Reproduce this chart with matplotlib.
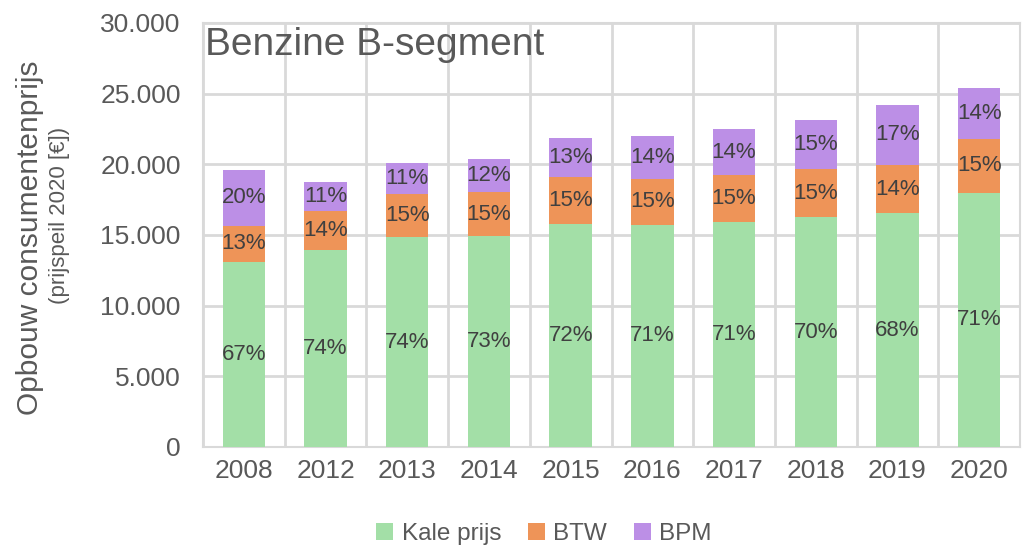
import numpy as np
import matplotlib.pyplot as plt

years = ["2008", "2012", "2013", "2014", "2015", "2016", "2017", "2018", "2019", "2020"]
kale_prijs = [13110, 13940, 14840, 14910, 15800, 15710, 15940, 16260, 16540, 18000]
btw = [2550, 2740, 3090, 3140, 3290, 3260, 3310, 3390, 3420, 3800]
bpm = [3940, 2100, 2190, 2350, 2800, 3060, 3230, 3490, 4240, 3590]

kale_pct = ["67%", "74%", "74%", "73%", "72%", "71%", "71%", "70%", "68%", "71%"]
btw_pct = ["13%", "14%", "15%", "15%", "15%", "15%", "15%", "15%", "14%", "15%"]
bpm_pct = ["20%", "11%", "11%", "12%", "13%", "14%", "14%", "15%", "17%", "14%"]

plt.rcParams['font.family'] = ['Liberation Sans', 'DejaVu Sans']
txt = '#595959'
grid = '#d9d9d9'

fig = plt.figure(figsize=(10.33, 5.49), dpi=100)
ax = fig.add_axes([203 / 1033, 1 - 447 / 549, 817 / 1033, 424 / 549])

x = np.arange(len(years))
w = 0.52
b1 = ax.bar(x, kale_prijs, w, color='#a3dfa7', label='Kale prijs', zorder=3)
bottom2 = np.array(kale_prijs)
b2 = ax.bar(x, btw, w, bottom=bottom2, color='#ee9458', label='BTW', zorder=3)
bottom3 = bottom2 + np.array(btw)
b3 = ax.bar(x, bpm, w, bottom=bottom3, color='#bc8fe6', label='BPM', zorder=3)

for bars, labels in [(b1, kale_pct), (b2, btw_pct), (b3, bpm_pct)]:
    ax.bar_label(bars, labels=labels, label_type='center', fontsize=16,
                 color='#404040', zorder=4)

ax.set_xlim(-0.5, len(years) - 0.5)
ax.set_ylim(0, 30000)
ax.set_yticks(np.arange(0, 30001, 5000))
ax.set_yticklabels([f"{v:,}".replace(",", ".") for v in range(0, 30001, 5000)])
ax.set_xticks(x)
ax.set_xticklabels(years)
ax.set_xticks(np.arange(-0.5, len(years), 1), minor=True)
ax.grid(axis='y', color=grid, linewidth=2, zorder=0)
ax.grid(axis='x', which='minor', color=grid, linewidth=2, zorder=0)
ax.tick_params(axis='both', which='both', length=0, labelsize=19, labelcolor=txt)
ax.tick_params(axis='y', pad=16)
ax.tick_params(axis='x', pad=9)
for s in ax.spines.values():
    s.set_color(grid)
    s.set_linewidth(1.5)

ax.text(0.003, 0.99, "Benzine B-segment", transform=ax.transAxes, fontsize=28,
        color=txt, va='top', ha='left')

fig.text(30 / 1033, 1 - 238 / 549, "Opbouw consumentenprijs", rotation=90,
         fontsize=21.5, color=txt, ha='center', va='center')
fig.text(60 / 1033, 1 - 215 / 549, "(prijspeil 2020 [€])", rotation=90,
         fontsize=16, color=txt, ha='center', va='center')

fig.legend(handles=[b1, b2, b3], loc='center', bbox_to_anchor=(544 / 1033, 1 - 534 / 549),
           ncol=3, frameon=False, fontsize=17.5, labelcolor=txt, handlelength=0.7,
           handleheight=0.7, handletextpad=0.35, columnspacing=1.1)

fig.savefig("out.png", dpi=100)
